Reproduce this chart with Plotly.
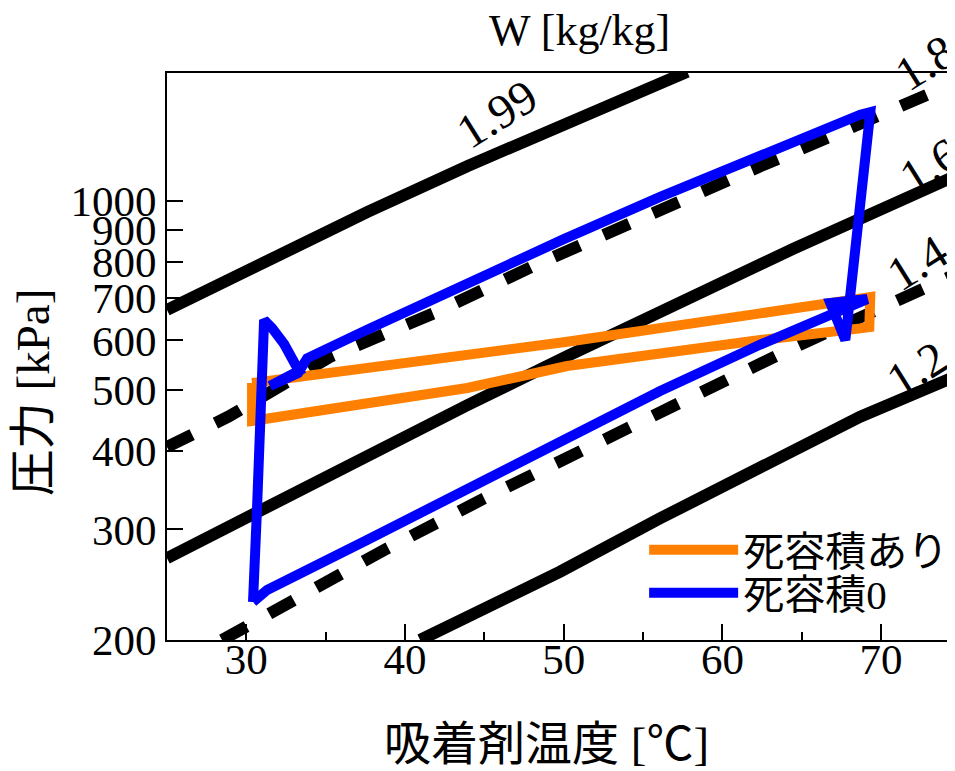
import math
import plotly.graph_objects as go

# ---------------- data ----------------
# Isosteres: adsorbent temperature [deg C] vs pressure [kPa]
w199_t = [25.0, 31.31, 37.61, 43.92, 50.22, 57.79]
w199_p = [671, 805.6, 960.7, 1136.8, 1336.4, 1607]

w18_t = [25.0, 28.89, 35.28, 41.82, 48.22, 54.82, 61.34, 67.96, 74.16, 74.7]
w18_p = [406, 454, 565, 663, 791, 939, 1107, 1305, 1521, 1545]

w16_t = [25.0, 31.31, 37.61, 43.92, 50.22, 58.18, 64.49, 74.7]
w16_p = [270, 326.6, 393.9, 473.1, 566.3, 707.1, 840.2, 1097]

w14_t = [28.47, 32.36, 38.66, 44.97, 51.46, 57.87, 64.39, 70.79, 74.7]
w14_p = [200, 227.5, 278, 336, 406, 485, 583, 687, 765]

w12_t = [40.95, 49.78, 56.08, 62.39, 68.69, 74.7]
w12_p = [200, 257, 312.5, 377.6, 453.6, 526]

iso_labels = ["1.99", "1.8", "1.6", "1.4", "1.2"]

# Cycle with dead volume (orange)
dead_t = [30.36, 37.61, 50.22, 62.39, 69.32, 69.26, 68.69, 62.39, 56.08,
          50.22, 43.92, 37.61, 31.31, 30.36, 30.36]
dead_p = [513.3, 542.3, 597.1, 662.7, 703.5, 630.2, 627.2, 600.8, 572.2,
          546.3, 504.0, 475.3, 451.5, 446.6, 513.3]

# Cycle with zero dead volume (blue)
zero_t = [30.42, 31.31, 37.61, 43.92, 50.22, 56.08, 62.39, 66.59, 68.69,
          69.13, 66.80, 67.75, 68.44, 69.32, 68.69, 62.39, 56.08, 49.97,
          43.92, 37.61, 33.83, 33.26, 31.49, 33.32, 33.07, 32.38, 31.62,
          31.12, 30.67, 30.42]
zero_p = [229.9, 240.3, 288.6, 348.9, 420.3, 498.4, 591.0, 655.0, 690.7,
          698.3, 688.2, 600.8, 866.9, 1386, 1373, 1185, 1016, 869,
          742, 624, 561.9, 532.4, 507.7, 536.9, 550.3, 592.1, 627.9,
          646.6, 322.2, 229.9]

series_names = ["死容積あり", "死容積0"]

x_ticks = [30, 40, 50, 60, 70]
x_minor = [35, 45, 55, 65]
y_ticks = [200, 300, 400, 500, 600, 700, 800, 900, 1000]
y_ticktext = [str(v) for v in y_ticks]

# ---------------- styling ----------------
SERIF = "Liberation Serif, 'Times New Roman', 'Noto Sans CJK JP', serif"
BLACK = "#000000"
ORANGE = "#FF8000"
BLUE = "#0000FF"
ISO_W = 12
CYC_W = 10
DASH = "28px,26px"

fig = go.Figure()

iso_sets = [
    (w199_t, w199_p, "solid"),
    (w18_t, w18_p, DASH),
    (w16_t, w16_p, "solid"),
    (w14_t, w14_p, DASH),
    (w12_t, w12_p, "solid"),
]
for (t, p, dash), lab in zip(iso_sets, iso_labels):
    fig.add_trace(go.Scatter(
        x=t, y=p, mode="lines", name="W=" + lab, showlegend=False,
        line=dict(color=BLACK, width=ISO_W, dash=dash),
        hoverinfo="skip",
    ))

fig.add_trace(go.Scatter(
    x=dead_t, y=dead_p, mode="lines", name=series_names[0], legend="legend",
    line=dict(color=ORANGE, width=CYC_W),
))
fig.add_trace(go.Scatter(
    x=zero_t, y=zero_p, mode="lines", name=series_names[1], legend="legend2",
    line=dict(color=BLUE, width=CYC_W),
))

# isostere value labels (rotated along the lines); paper coordinates of the plot area
label_pos = [(0.419, 0.928), (0.962, 1.019), (0.968, 0.836), (0.952, 0.666), (0.952, 0.478)]
annotations = []
for lab, (lx, ly) in zip(iso_labels, label_pos):
    annotations.append(dict(
        x=lx, y=ly, xref="paper", yref="paper", text=lab, showarrow=False,
        textangle=-32, font=dict(family=SERIF, size=48, color=BLACK),
        xanchor="center", yanchor="middle",
    ))

annotations += [
    dict(x=0.482, y=-0.176, xref="paper", yref="paper",
         text="吸着剤温度 [<span style=\"font-family:'Noto Sans CJK JP'\">℃</span>]",
         showarrow=False, font=dict(family=SERIF, size=47, color=BLACK),
         xanchor="center", yanchor="middle"),
    dict(x=-0.170, y=0.437, xref="paper", yref="paper", text="圧力 [kPa]",
         showarrow=False, textangle=-90, font=dict(family=SERIF, size=47, color=BLACK),
         xanchor="center", yanchor="middle"),
    dict(x=0.524, y=1.0745, xref="paper", yref="paper", text="W [kg/kg]",
         showarrow=False, font=dict(family=SERIF, size=44, color=BLACK),
         xanchor="center", yanchor="middle"),
]

legend_common = dict(
    xanchor="left", yanchor="middle",
    bgcolor="rgba(0,0,0,0)", borderwidth=0,
    font=dict(family=SERIF, size=41, color=BLACK),
    itemwidth=89,
)

# the page has an 8px body margin, so the figure is 8px smaller than the window
fig.update_layout(
    width=947, height=763,
    margin=dict(l=159, r=0, t=65, b=131, autoexpand=False),
    paper_bgcolor="white", plot_bgcolor="white",
    font=dict(family=SERIF, color=BLACK),
    showlegend=True,
    legend=dict(x=0.6055, y=0.1587, **legend_common),
    legend2=dict(x=0.6055, y=0.0829, **legend_common),
    annotations=annotations,
)

fig.update_xaxes(
    range=[25, 74.66], tickvals=x_ticks, ticks="inside", ticklen=16, tickwidth=2,
    tickcolor=BLACK, showline=True, linewidth=2, linecolor=BLACK, mirror=True,
    showgrid=False, zeroline=False, ticklabelstandoff=-20,
    tickfont=dict(family=SERIF, size=43, color=BLACK),
    minor=dict(tickvals=x_minor, ticks="inside", ticklen=8, tickwidth=2, tickcolor=BLACK),
)
fig.update_yaxes(
    type="log", range=[math.log10(200), math.log10(1600)],
    tickvals=y_ticks, ticktext=y_ticktext, ticks="inside", ticklen=16, tickwidth=2,
    tickcolor=BLACK, showline=True, linewidth=2, linecolor=BLACK, mirror=False,
    showgrid=False, zeroline=False,
    tickfont=dict(family=SERIF, size=43, color=BLACK),
)

fig.write_html("out.html")
